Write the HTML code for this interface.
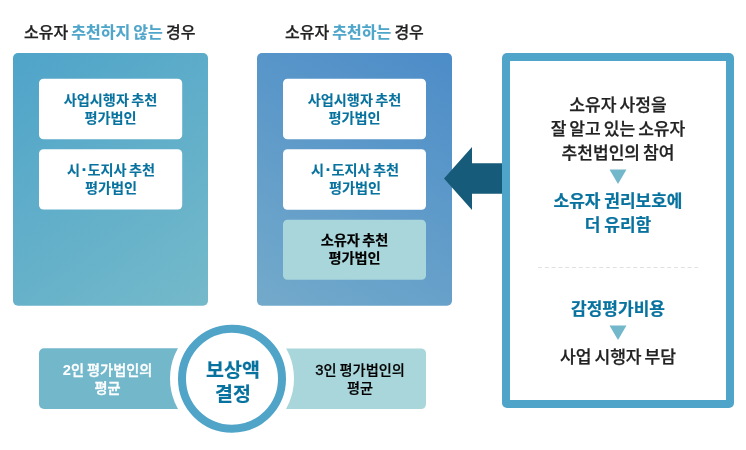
<!DOCTYPE html>
<html lang="ko">
<head>
<meta charset="utf-8">
<title>감정평가법인 추천</title>
<style>
*{box-sizing:border-box;margin:0;padding:0}
html,body{width:746px;height:450px;background:#fff;overflow:hidden}
body{position:relative;font-family:"Liberation Sans","Noto Sans CJK KR",sans-serif;color:#222;word-spacing:-0.054em}
.shapes{position:absolute;left:0;top:0;width:746px;height:450px;display:block}
.head,.box,.t,.pill,.ring{position:absolute;white-space:nowrap;will-change:transform;-webkit-text-stroke:0.1px}
.head,.t{-webkit-text-stroke:0.25px}
.head b{-webkit-text-stroke:0.15px}
.t.bl{-webkit-text-stroke:0.22px}
.head{top:21px;height:24px;line-height:24px;font-size:16px;font-weight:500;color:#222;word-spacing:-0.08em}
.head b{font-weight:700;color:#4fa6ca}
.box{width:143px;height:60px;text-align:center;font-size:14.2px;font-weight:700;line-height:18px;color:#08729f;padding-top:12px;word-spacing:-0.12em}
.box.k{color:#000;-webkit-text-stroke:0.2px}
.dot{display:inline-block;margin:0 1.1px 0 1.6px;transform:scale(1.25)}
.t{left:510px;width:216px;text-align:center;font-size:17.1px;line-height:24px;font-weight:500;color:#222;word-spacing:-0.105em}
.t.bl{font-weight:700;color:#08729f;font-size:17px;word-spacing:-0.054em}
.pill{top:348px;height:61px;text-align:center;font-size:14.2px;line-height:18px;font-weight:500;padding-top:13px;-webkit-text-stroke:0.35px}
.n{font-size:1.04em;line-height:0;font-weight:700;-webkit-text-stroke:0}
.pl{left:39px;width:137px;color:#fff}
.pr{left:294px;width:132px;color:#000;-webkit-text-stroke:0.22px}
.pr .n{font-weight:400;-webkit-text-stroke:0.35px}
.ring{left:179px;top:358px;width:108px;text-align:center;font-size:19.5px;font-weight:700;line-height:24px;color:#08729f;-webkit-text-stroke:0.2px}
</style>
</head>
<body>
<svg class="shapes" width="746" height="450" viewBox="0 0 746 450">
  <defs>
    <linearGradient id="g1" gradientUnits="userSpaceOnUse" x1="13" y1="53" x2="213" y2="333">
      <stop offset="0" stop-color="#4fa4c9"/><stop offset="1" stop-color="#77bbca"/>
    </linearGradient>
    <linearGradient id="g2" gradientUnits="userSpaceOnUse" x1="452" y1="53" x2="285" y2="358">
      <stop offset="0" stop-color="#4c8cc8"/><stop offset="1" stop-color="#77adcb"/>
    </linearGradient>
  </defs>
  <!-- left panel -->
  <rect x="13" y="53" width="195" height="252.8" rx="5" fill="url(#g1)"/>
  <rect x="39" y="78.8" width="143.2" height="60.5" rx="4.5" fill="#fff"/>
  <rect x="39" y="149.2" width="143.2" height="60.4" rx="4.5" fill="#fff"/>
  <!-- middle panel -->
  <rect x="257" y="53" width="195" height="252.8" rx="5" fill="url(#g2)"/>
  <rect x="283" y="78.8" width="143" height="60.5" rx="4.5" fill="#fff"/>
  <rect x="283" y="149.2" width="143" height="60.5" rx="4.5" fill="#fff"/>
  <rect x="283" y="219.7" width="143" height="60" rx="4.5" fill="#a9d6da"/>
  <!-- arrow -->
  <polygon points="444,178.5 472,147 472,163.3 502,163.3 502,193.7 472,193.7 472,210" fill="#175b7a"/>
  <!-- right frame -->
  <rect x="502" y="53" width="232" height="355" rx="5" fill="#4fa5c9"/>
  <rect x="510" y="61" width="216" height="339" fill="#fff"/>
  <polygon points="609.5,169.5 626.5,169.5 618,183.9" fill="#72b7ca"/>
  <line x1="538" y1="267.5" x2="698" y2="267.5" stroke="#e1e1e1" stroke-width="1" stroke-dasharray="4 2.8"/>
  <polygon points="609.5,325.5 626.5,325.5 618,339.9" fill="#72b7ca"/>
  <!-- bottom pills -->
  <rect x="39" y="348.2" width="160" height="60.8" rx="5" fill="#73b7cb"/>
  <rect x="266" y="348.4" width="160" height="60.7" rx="5" fill="#a9d6da"/>
  <circle cx="232" cy="378.6" r="62" fill="#fff"/>
  <circle cx="232" cy="378.7" r="50" fill="#fff" stroke="#4fa4c8" stroke-width="8"/>
</svg>

<div class="head" style="left:23.5px">소유자 <b>추천하지 않는</b> 경우</div>
<div class="head" style="left:284.5px">소유자 <b>추천하는</b> 경우</div>

<div class="box" style="left:39px;top:79px">사업시행자 추천<br>평가법인</div>
<div class="box" style="left:39px;top:149px;padding-left:1px">시<span class="dot">·</span>도지사 추천<br>평가법인</div>

<div class="box" style="left:283px;top:79px">사업시행자 추천<br>평가법인</div>
<div class="box" style="left:283px;top:149px;padding-left:1px">시<span class="dot">·</span>도지사 추천<br>평가법인</div>
<div class="box k" style="left:283px;top:219px">소유자 추천<br>평가법인</div>

<div class="t" style="top:94px">소유자 사정을</div>
<div class="t" style="top:118px">잘 알고 있는 소유자</div>
<div class="t" style="top:142px">추천법인의 참여</div>
<div class="t bl" style="top:190px">소유자 권리보호에</div>
<div class="t bl" style="top:214px">더 유리함</div>
<div class="t bl" style="top:298px">감정평가비용</div>
<div class="t" style="top:346px">사업 시행자 부담</div>

<div class="pill pl"><span class="n">2</span>인 평가법인의<br>평균</div>
<div class="pill pr"><span class="n">3</span>인 평가법인의<br>평균</div>
<div class="ring">보상액<br>결정</div>
</body>
</html>
